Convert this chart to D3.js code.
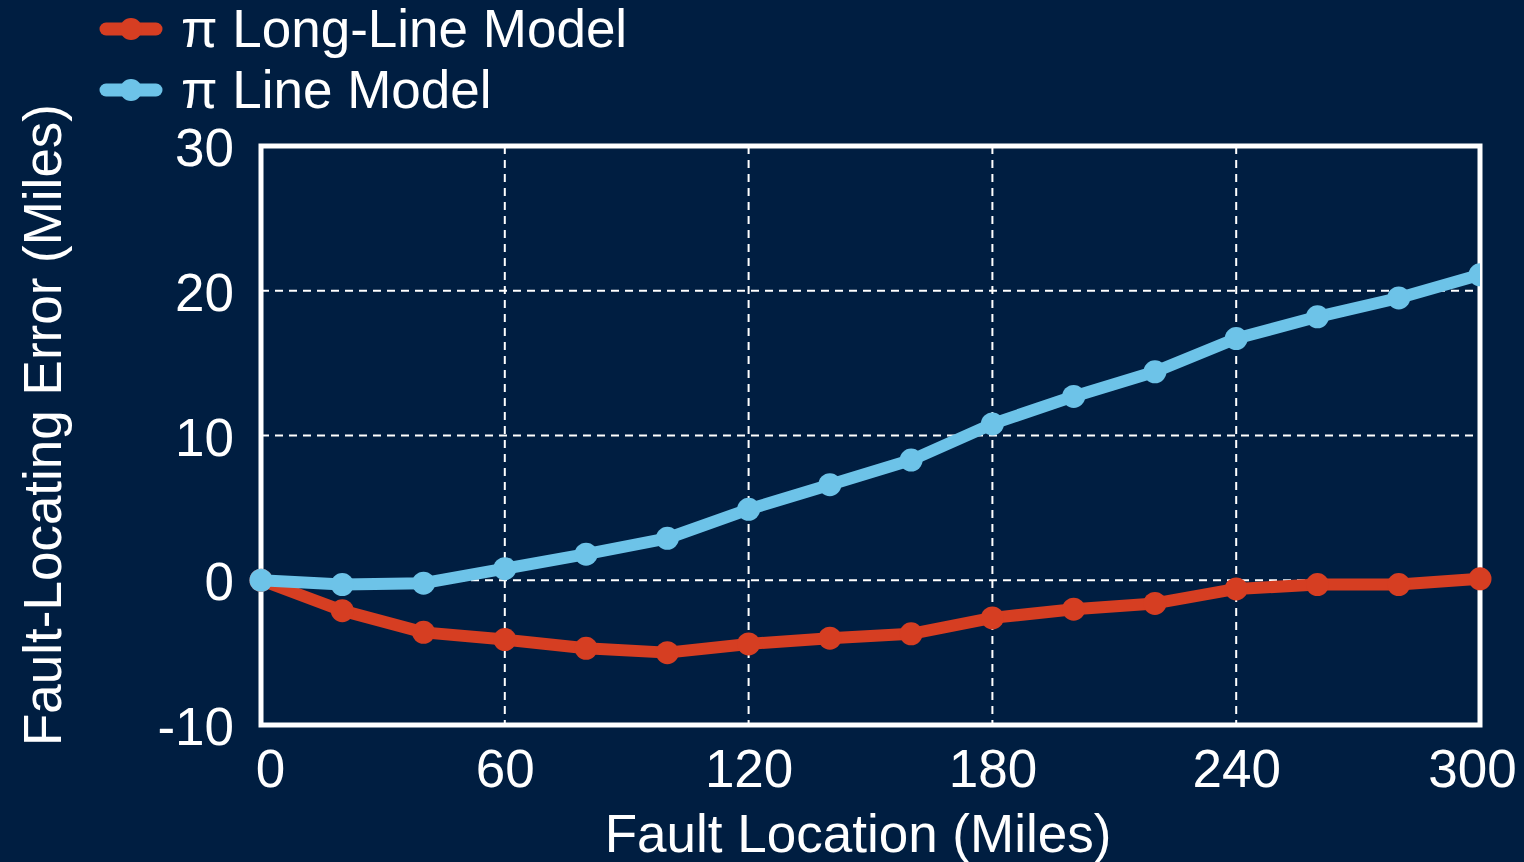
<!DOCTYPE html>
<html><head><meta charset="utf-8">
<script src="https://cdn.jsdelivr.net/npm/d3@7/dist/d3.min.js"></script>
<style>html,body{margin:0;padding:0;background:#001e41;}svg{display:block;}</style>
</head><body>
<script>
const locations = [0,20,40,60,80,100,120,140,160,180,200,220,240,260,280,300];
const longLineErr = [0,-2.1,-3.6,-4.1,-4.7,-5.0,-4.4,-4.0,-3.7,-2.6,-2.0,-1.6,-0.6,-0.3,-0.3,0.1];
const lineErr = [0,-0.3,-0.2,0.8,1.8,2.9,4.9,6.6,8.3,10.8,12.7,14.4,16.7,18.2,19.5,21.1];
const xTicks = [0,60,120,180,240,300];
const yTicks = [-10,0,10,20,30];
const seriesNames = ["\u03c0 Long-Line Model","\u03c0 Line Model"];
const seriesColors = ["#d63e22","#6dc3e8"];

const W=1524,H=862;
const L=261,R=1480,T=146,B=725;
const font="'Liberation Sans', Arial, sans-serif";
const svg=d3.select("body").append("svg").attr("width",W).attr("height",H);
svg.append("rect").attr("width",W).attr("height",H).attr("fill","#001e41");
const x=d3.scaleLinear().domain([0,300]).range([L,R]);
const y=d3.scaleLinear().domain([-10,30]).range([B,T]);

const g=svg.append("g");
g.selectAll(".vg").data(xTicks.filter(d=>d>0&&d<300)).join("line")
 .attr("x1",d=>x(d)).attr("x2",d=>x(d)).attr("y1",T).attr("y2",B)
 .attr("stroke","#fff").attr("stroke-width",2).attr("stroke-dasharray","8,6");
g.selectAll(".hg").data(yTicks.filter(d=>d>-10&&d<30)).join("line")
 .attr("y1",d=>y(d)).attr("y2",d=>y(d)).attr("x1",L).attr("x2",R)
 .attr("stroke","#fff").attr("stroke-width",2).attr("stroke-dasharray","8,6");

svg.append("rect").attr("x",L).attr("y",T).attr("width",R-L).attr("height",B-T)
 .attr("fill","none").attr("stroke","#fff").attr("stroke-width",5);

svg.append("clipPath").attr("id","clip").append("rect")
 .attr("x",0).attr("y",0).attr("width",R).attr("height",H);

const line=d3.line().x((d,i)=>x(locations[i])).y(d=>y(d));
const allSeries=[longLineErr,lineErr];
allSeries.forEach((s,k)=>{
  const gg=svg.append("g");
  if(k===1) gg.attr("clip-path","url(#clip)");
  gg.append("path").datum(s).attr("d",line).attr("fill","none")
   .attr("stroke",seriesColors[k]).attr("stroke-width",12).attr("stroke-linejoin","round");
  gg.selectAll("circle").data(s).join("circle")
   .attr("cx",(d,i)=>x(locations[i])).attr("cy",d=>y(d)).attr("r",11.5)
   .attr("fill",seriesColors[k]);
});

const xa=svg.append("g").attr("transform",`translate(0,${B})`)
 .call(d3.axisBottom(x).tickValues(xTicks).tickSize(0).tickPadding(24).tickFormat(d3.format("d")));
xa.select(".domain").remove();
xa.selectAll("text").attr("font-family",font).attr("font-size",53).attr("fill","#fff")
 .attr("dx",d=>d===0?9:(d===300?-8:0));
const ya=svg.append("g").attr("transform",`translate(${L},0)`)
 .call(d3.axisLeft(y).tickValues(yTicks).tickSize(0).tickPadding(27).tickFormat(d=>String(d)));
ya.select(".domain").remove();
ya.selectAll("text").attr("font-family",font).attr("font-size",53).attr("fill","#fff").attr("dy","0.37em");

svg.append("text").attr("x",858).attr("y",852).attr("text-anchor","middle")
 .attr("font-family",font).attr("font-size",53).attr("fill","#fff").text("Fault Location (Miles)");
svg.append("text").attr("transform","translate(61,425) rotate(-90)").attr("text-anchor","middle")
 .attr("font-family",font).attr("font-size",53).attr("fill","#fff").text("Fault-Locating Error (Miles)");

seriesNames.forEach((n,k)=>{
  const yy=29+k*61;
  svg.append("line").attr("x1",106).attr("x2",156).attr("y1",yy).attr("y2",yy)
   .attr("stroke",seriesColors[k]).attr("stroke-width",13).attr("stroke-linecap","round");
  svg.append("circle").attr("cx",131).attr("cy",yy).attr("r",11).attr("fill",seriesColors[k]);
  svg.append("text").attr("x",181).attr("y",yy+18).attr("font-family",font).attr("font-size",53)
   .attr("fill","#fff").text(n);
});
</script>
</body></html>
